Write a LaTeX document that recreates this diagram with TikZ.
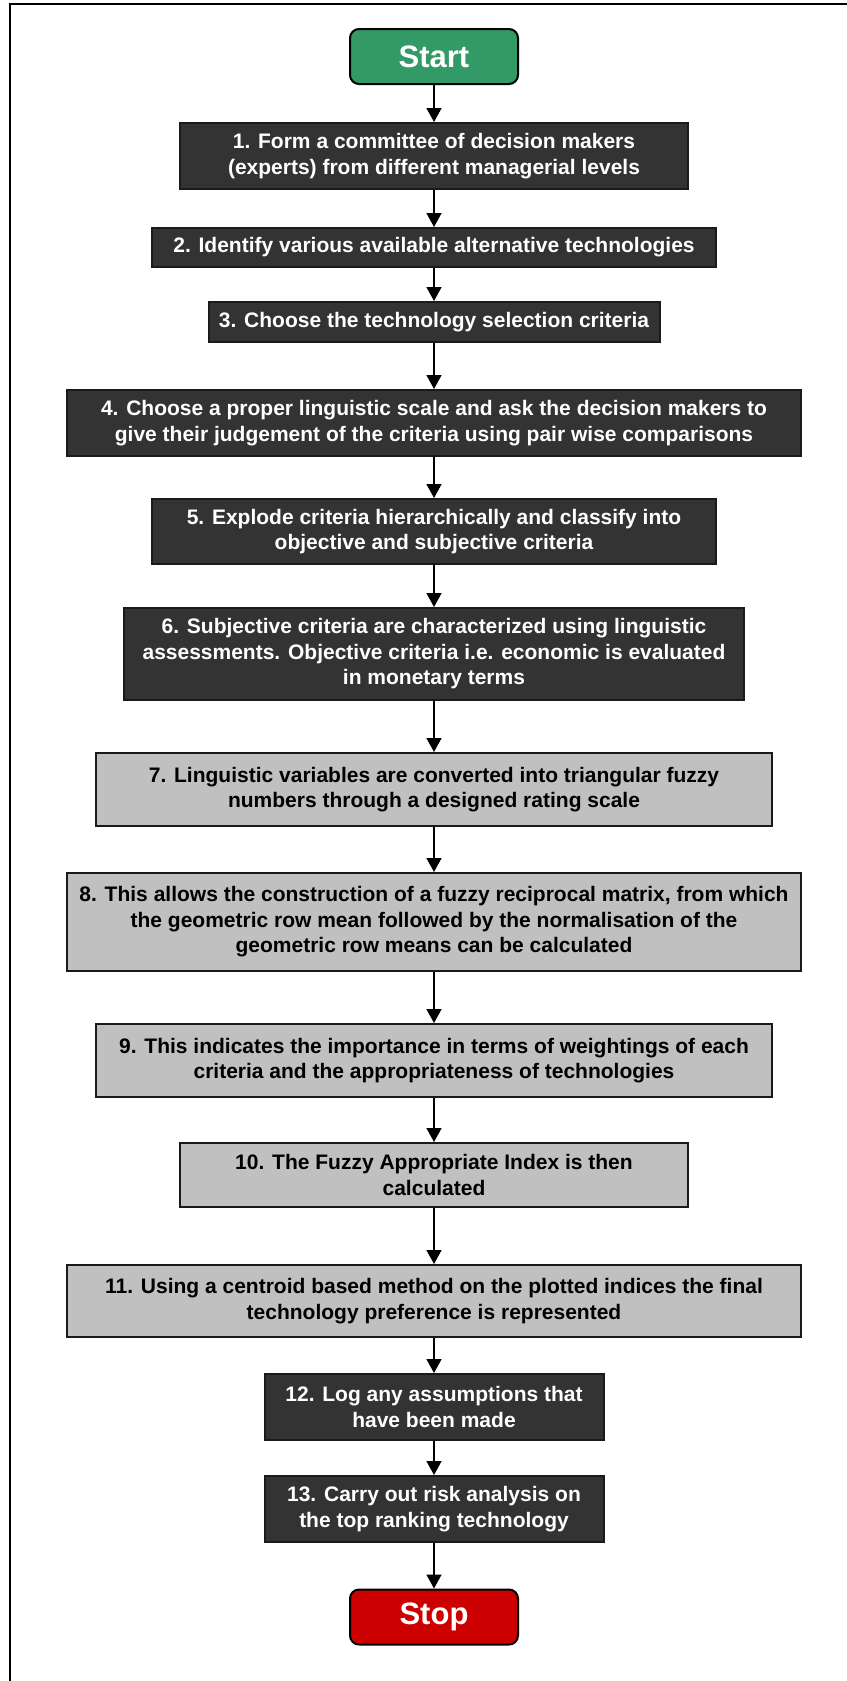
\documentclass[tikz,border=0pt]{standalone}
\usepackage{fontspec}
\setmainfont{Liberation Sans}
\usetikzlibrary{arrows.meta}
\definecolor{stepdark}{HTML}{333333}
\definecolor{steplight}{HTML}{C0C0C0}
\definecolor{edgeline}{HTML}{1A1A1A}
\definecolor{startgreen}{HTML}{339966}
\definecolor{stopred}{HTML}{CC0000}
\tikzset{
  box/.style={rectangle, draw=edgeline, line width=2pt, inner sep=0pt, align=center,
    font=\fontsize{21}{25.5}\selectfont\bfseries},
  darkbox/.style={box, fill=stepdark, text=white},
  lightbox/.style={box, fill=steplight, text=black},
  terminal/.style={rectangle, rounded corners=9pt, draw=black, line width=2pt,
    minimum width=168pt, minimum height=55pt, text=white,
    font=\fontsize{31}{36}\selectfont\bfseries},
  flow/.style={draw=black, line width=1.5pt, -{Triangle[length=14pt,width=15pt]}},
}
\begin{document}
\begin{tikzpicture}[x=1pt,y=-1pt]
\useasboundingbox (0,0) rectangle (846,1681);
% page frame, running off the right and bottom edges
\draw[line width=2pt] (900,4) -- (10,4) -- (10,1700);

\node[terminal, fill=startgreen] (start) at (434,56.5) {Start};
\node[darkbox, minimum width=508pt, minimum height=66pt] (s1) at (434,156)
  {1. Form a committee of decision makers\\(experts) from different managerial levels};
\node[darkbox, minimum width=564pt, minimum height=39pt] (s2) at (434,247.5)
  {2. Identify various available alternative technologies};
\node[darkbox, minimum width=451pt, minimum height=40pt] (s3) at (434,322)
  {3. Choose the technology selection criteria};
\node[darkbox, minimum width=734pt, minimum height=66pt] (s4) at (434,423)
  {4. Choose a proper linguistic scale and ask the decision makers to\\give their judgement of the criteria using pair wise comparisons};
\node[darkbox, minimum width=564pt, minimum height=65pt] (s5) at (434,531.5)
  {5. Explode criteria hierarchically and classify into\\objective and subjective criteria};
\node[darkbox, minimum width=620pt, minimum height=92pt] (s6) at (434,654)
  {6. Subjective criteria are characterized using linguistic\\assessments. Objective criteria i.e. economic is evaluated\\in monetary terms};
\node[lightbox, minimum width=676pt, minimum height=73pt] (s7) at (434,789.5)
  {7. Linguistic variables are converted into triangular fuzzy\\numbers through a designed rating scale};
\node[lightbox, minimum width=734pt, minimum height=98pt] (s8) at (434,922)
  {8. This allows the construction of a fuzzy reciprocal matrix, from which\\the geometric row mean followed by the normalisation of the\\geometric row means can be calculated};
\node[lightbox, minimum width=676pt, minimum height=73pt] (s9) at (434,1060.5)
  {9. This indicates the importance in terms of weightings of each\\criteria and the appropriateness of technologies};
\node[lightbox, minimum width=508pt, minimum height=64pt] (s10) at (434,1175)
  {10. The Fuzzy Appropriate Index is then\\calculated};
\node[lightbox, minimum width=734pt, minimum height=72pt] (s11) at (434,1301)
  {11. Using a centroid based method on the plotted indices the final\\technology preference is represented};
\node[darkbox, minimum width=339pt, minimum height=66pt] (s12) at (434,1407)
  {12. Log any assumptions that\\have been made};
\node[darkbox, minimum width=339pt, minimum height=66pt] (s13) at (434,1509)
  {13. Carry out risk analysis on\\the top ranking technology};
\node[terminal, fill=stopred] (stop) at (434,1617) {Stop};

\draw[flow] (start) -- (s1);
\draw[flow] (s1) -- (s2);
\draw[flow] (s2) -- (s3);
\draw[flow] (s3) -- (s4);
\draw[flow] (s4) -- (s5);
\draw[flow] (s5) -- (s6);
\draw[flow] (s6) -- (s7);
\draw[flow] (s7) -- (s8);
\draw[flow] (s8) -- (s9);
\draw[flow] (s9) -- (s10);
\draw[flow] (s10) -- (s11);
\draw[flow] (s11) -- (s12);
\draw[flow] (s12) -- (s13);
\draw[flow] (s13) -- (stop);
\end{tikzpicture}
\end{document}
